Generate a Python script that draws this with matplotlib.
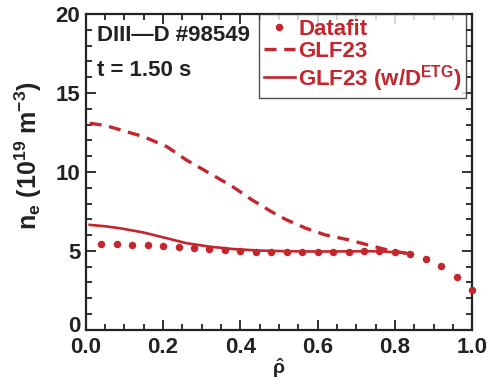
import matplotlib

matplotlib.use("Agg")
import matplotlib.pyplot as plt
import matplotlib.transforms as mtransforms
import numpy as np
from matplotlib.ticker import MultipleLocator

plt.rcParams["font.family"] = ["Liberation Sans", "DejaVu Sans"]
plt.rcParams["font.weight"] = "bold"
plt.rcParams["axes.labelweight"] = "bold"
plt.rcParams["mathtext.fontset"] = "custom"
plt.rcParams["mathtext.rm"] = "Liberation Sans:bold"
plt.rcParams["mathtext.it"] = "Liberation Sans:bold"
plt.rcParams["mathtext.bf"] = "Liberation Sans:bold"

RED = "#c4262e"
INK = "#222222"

# measured profile (datafit)
rho_data = [0.04, 0.08, 0.12, 0.16, 0.20, 0.24, 0.28, 0.32, 0.36, 0.40,
            0.44, 0.48, 0.52, 0.56, 0.60, 0.64, 0.68, 0.72, 0.76, 0.80,
            0.84, 0.88, 0.92, 0.96, 1.00]
ne_data = [5.44, 5.42, 5.39, 5.36, 5.32, 5.25, 5.17, 5.11, 5.04, 5.00,
           4.96, 4.93, 4.90, 4.90, 4.90, 4.92, 4.96, 5.00, 5.02, 4.96,
           4.81, 4.51, 4.05, 3.35, 2.53]

# GLF23 prediction
rho_glf = [0.01, 0.05, 0.09, 0.15, 0.21, 0.26, 0.32, 0.38, 0.43, 0.48,
           0.52, 0.57, 0.62, 0.68, 0.73, 0.78, 0.84]
ne_glf = [13.08, 12.95, 12.66, 12.23, 11.60, 10.76, 9.92, 9.07, 8.23, 7.49,
          6.96, 6.43, 6.01, 5.70, 5.38, 5.06, 4.80]

# GLF23 with ETG diffusivity
rho_etg = [0.01, 0.05, 0.09, 0.15, 0.21, 0.26, 0.32, 0.38, 0.45, 0.52,
           0.60, 0.68, 0.76, 0.84]
ne_etg = [6.65, 6.56, 6.43, 6.16, 5.80, 5.49, 5.27, 5.12, 5.02, 4.98,
          4.96, 4.97, 4.98, 4.85]

fig = plt.figure(figsize=(4.96, 3.8), dpi=100)
ax = fig.add_axes([0.173, 0.132, 0.779, 0.831])

ax.plot(rho_data, ne_data, "o", color=RED, ms=5.4, mec="none", label="Datafit",
        clip_on=False, zorder=3)
ax.plot(rho_glf, ne_glf, "--", color=RED, lw=2.4, dashes=(3.6, 2.3), label="GLF23")
ax.plot(rho_etg, ne_etg, "-", color=RED, lw=1.9, label=r"GLF23 (w/D$^{\mathrm{ETG}}$)")

ax.set_xlim(0, 1)
ax.set_ylim(0, 20)
ax.xaxis.set_major_locator(MultipleLocator(0.2))
ax.xaxis.set_minor_locator(MultipleLocator(0.05))
ax.yaxis.set_major_locator(MultipleLocator(5))
ax.yaxis.set_minor_locator(MultipleLocator(1))
ax.tick_params(which="both", direction="in", top=True, right=True, width=1.3,
               labelsize=16, colors=INK)
ax.tick_params(which="major", length=7)
ax.tick_params(which="minor", length=4)
ax.tick_params(axis="x", pad=5)
ax.tick_params(axis="y", pad=4)
for s in ax.spines.values():
    s.set_linewidth(1.6)
    s.set_color(INK)

ax.set_ylabel(r"n$_e$ (10$^{19}$ m$^{-3}$)", fontsize=18, color=INK)
ax.yaxis.set_label_coords(-0.108, 0.55)
ax.set_xlabel(r"$\hat{\rho}$", fontsize=14, color=INK, labelpad=-1, fontweight="normal")

ax.text(0.028, 0.965, "DIII\u2014D #98549", transform=ax.transAxes, fontsize=16,
        color=INK, va="top", ha="left")
ax.text(0.028, 0.855, "t = 1.50 s", transform=ax.transAxes, fontsize=16,
        color=INK, va="top", ha="left")

leg = ax.legend(loc="upper right", fontsize=16, frameon=True, fancybox=False,
                borderaxespad=0.0, handlelength=1.4, handletextpad=0.15,
                labelspacing=0.05, borderpad=0.2, numpoints=1,
                bbox_to_anchor=(0.984, 1.0))
leg.get_frame().set_edgecolor(INK)
leg.get_frame().set_linewidth(1.0)
for t in leg.get_texts():
    t.set_color(RED)

# nudge the "0" on the y axis up a little so it clears "0.0"
fig.canvas.draw()
lift = mtransforms.ScaledTranslation(0, 4 / 72, fig.dpi_scale_trans)
for tick in ax.yaxis.get_major_ticks():
    if abs(tick.get_loc()) < 1e-9:
        tick.label1.set_transform(tick.label1.get_transform() + lift)

fig.savefig("out.png")
